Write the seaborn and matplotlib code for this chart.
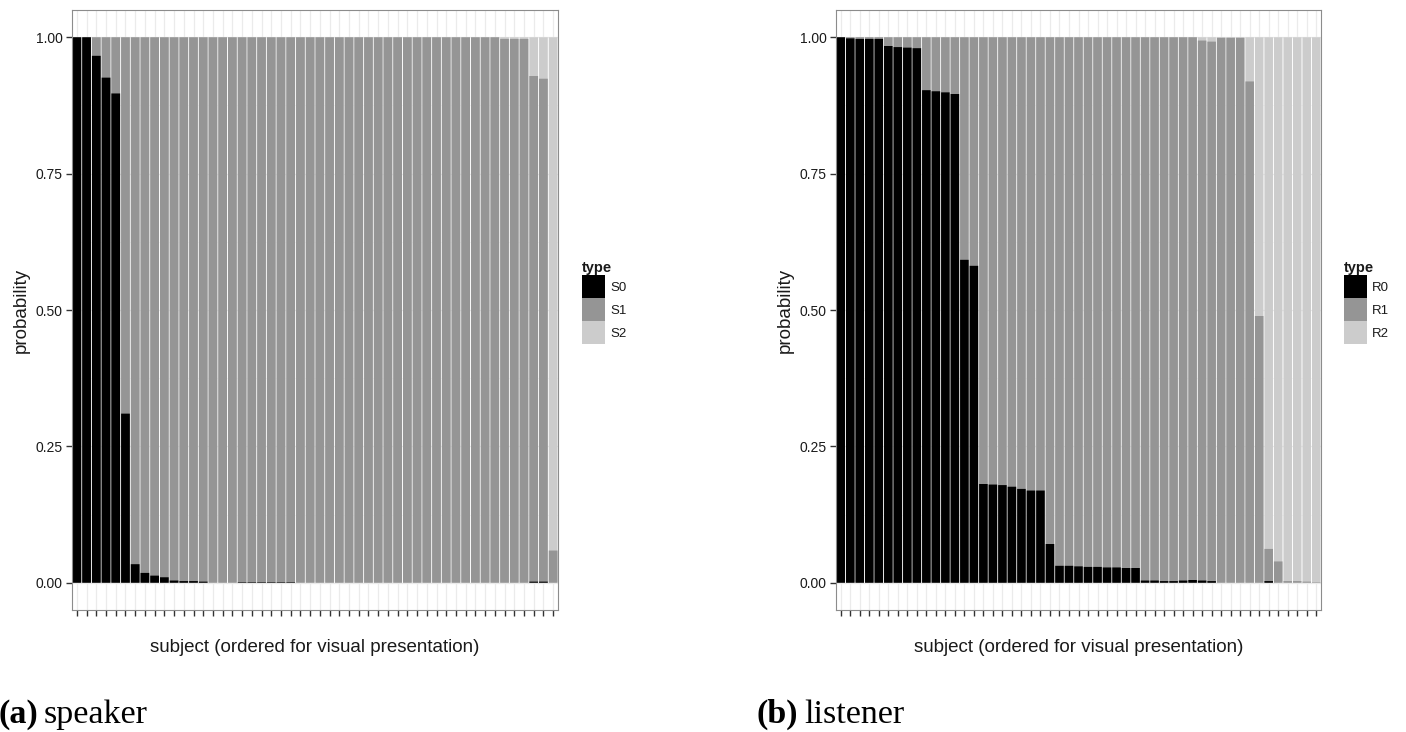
import matplotlib
matplotlib.use("Agg")
import matplotlib.pyplot as plt
import numpy as np
import pandas as pd
import seaborn as sns
from matplotlib.patches import Patch
from matplotlib.ticker import FixedLocator

# ---------------- data ----------------
speaker_types = ["S0", "S1", "S2"]
listener_types = ["R0", "R1", "R2"]

S0 = [1.000, 1.000, 0.966, 0.926, 0.897, 0.310, 0.034, 0.018, 0.013, 0.010,
      0.004, 0.003, 0.003, 0.002, 0.000, 0.000, 0.000, 0.001, 0.001, 0.001,
      0.001, 0.001, 0.001, 0.000, 0.000, 0.000, 0.000, 0.000, 0.000, 0.000,
      0.000, 0.000, 0.000, 0.000, 0.000, 0.000, 0.000, 0.000, 0.000, 0.000,
      0.000, 0.000, 0.000, 0.000, 0.000, 0.000, 0.000, 0.002, 0.002, 0.000]
S1 = [0.000, 0.000, 0.034, 0.074, 0.103, 0.690, 0.966, 0.982, 0.987, 0.990,
      0.996, 0.997, 0.997, 0.998, 1.000, 1.000, 1.000, 0.999, 0.999, 0.999,
      0.999, 0.999, 0.999, 1.000, 1.000, 1.000, 1.000, 1.000, 1.000, 1.000,
      1.000, 1.000, 1.000, 1.000, 1.000, 1.000, 1.000, 1.000, 1.000, 1.000,
      1.000, 1.000, 1.000, 1.000, 0.997, 0.997, 0.997, 0.927, 0.922, 0.059]
S2 = [0.000, 0.000, 0.000, 0.000, 0.000, 0.000, 0.000, 0.000, 0.000, 0.000,
      0.000, 0.000, 0.000, 0.000, 0.000, 0.000, 0.000, 0.000, 0.000, 0.000,
      0.000, 0.000, 0.000, 0.000, 0.000, 0.000, 0.000, 0.000, 0.000, 0.000,
      0.000, 0.000, 0.000, 0.000, 0.000, 0.000, 0.000, 0.000, 0.000, 0.000,
      0.000, 0.000, 0.000, 0.000, 0.003, 0.003, 0.003, 0.071, 0.076, 0.941]

R0 = [1.000, 0.998, 0.997, 0.997, 0.997, 0.984, 0.982, 0.981, 0.980, 0.903,
      0.901, 0.899, 0.896, 0.592, 0.581, 0.181, 0.180, 0.179, 0.176, 0.172,
      0.169, 0.169, 0.071, 0.031, 0.031, 0.030, 0.029, 0.029, 0.028, 0.028,
      0.027, 0.027, 0.004, 0.004, 0.003, 0.003, 0.004, 0.005, 0.004, 0.003,
      0.000, 0.000, 0.000, 0.000, 0.000, 0.003, 0.000, 0.000, 0.000, 0.000,
      0.000]
R1 = [0.000, 0.002, 0.003, 0.003, 0.003, 0.016, 0.018, 0.019, 0.020, 0.097,
      0.099, 0.101, 0.104, 0.408, 0.419, 0.819, 0.820, 0.821, 0.824, 0.828,
      0.831, 0.831, 0.929, 0.969, 0.969, 0.970, 0.971, 0.971, 0.972, 0.972,
      0.973, 0.973, 0.996, 0.996, 0.997, 0.997, 0.996, 0.995, 0.990, 0.989,
      0.999, 0.999, 0.999, 0.919, 0.489, 0.059, 0.039, 0.003, 0.003, 0.002,
      0.001]
R2 = [0.000, 0.000, 0.000, 0.000, 0.000, 0.000, 0.000, 0.000, 0.000, 0.000,
      0.000, 0.000, 0.000, 0.000, 0.000, 0.000, 0.000, 0.000, 0.000, 0.000,
      0.000, 0.000, 0.000, 0.000, 0.000, 0.000, 0.000, 0.000, 0.000, 0.000,
      0.000, 0.000, 0.000, 0.000, 0.000, 0.000, 0.000, 0.000, 0.006, 0.008,
      0.001, 0.001, 0.001, 0.081, 0.511, 0.938, 0.961, 0.997, 0.997, 0.998,
      0.999]

y_ticks = [0.0, 0.25, 0.5, 0.75, 1.0]
y_ticklabels = ["0.00", "0.25", "0.50", "0.75", "1.00"]
x_label = "subject (ordered for visual presentation)"
y_label = "probability"
legend_title = "type"
captions = [("(a)", "speaker"), ("(b)", "listener")]

GREYS = ["#000000", "#959595", "#cccccc"]
TEXT = "#1a1a1a"

# ---------------- style ----------------
sns.set_style("white")
plt.rcParams["font.family"] = ["Liberation Sans", "DejaVu Sans"]

W, H = 1406, 732
fig = plt.figure(figsize=(W / 100, H / 100), dpi=100)

def fx(px):
    return px / W

def fy(py):
    return 1 - py / H

panel_top, panel_bot = 10, 610
axL = fig.add_axes([fx(72), fy(panel_bot), fx(558) - fx(72), (panel_bot - panel_top) / H])
axR = fig.add_axes([fx(836), fy(panel_bot), fx(1321) - fx(836), (panel_bot - panel_top) / H])


def draw_panel(ax, p0, p1, p2, types, legend_x):
    n = len(p0)
    df = pd.DataFrame({
        "subject": [f"subj{i + 1:02d}" for i in range(n)],
        types[0]: p0, types[1]: p1, types[2]: p2,
    })
    df["lvl2"] = df[types[0]] + df[types[1]]
    df["lvl3"] = df["lvl2"] + df[types[2]]
    order = list(df["subject"])
    for col, c in [("lvl3", GREYS[2]), ("lvl2", GREYS[1]), (types[0], GREYS[0])]:
        sns.barplot(data=df, x="subject", y=col, order=order, color=c,
                    width=0.9, saturation=1, errorbar=None, linewidth=0,
                    edgecolor="none", ax=ax, zorder=2)
    for p in ax.patches:
        p.set_snap(False)

    ax.set_xlim(-0.5, n - 0.5)
    ax.set_ylim(-0.05, 1.05)
    ax.set_xticks(range(n))
    ax.set_xticklabels([""] * n)
    ax.set_yticks(y_ticks)
    ax.set_yticklabels(y_ticklabels)
    ax.yaxis.set_minor_locator(FixedLocator([0.125, 0.375, 0.625, 0.875]))
    ax.set_axisbelow(True)
    ax.grid(True, which="major", axis="both", color="#ebebeb", linewidth=0.9, zorder=0)
    ax.grid(True, which="minor", axis="y", color="#f6f6f6", linewidth=0.6, zorder=0)
    ax.tick_params(axis="both", which="major", direction="out", length=4.5,
                   width=1.0, color="#333333", labelsize=10, labelcolor=TEXT, pad=2,
                   bottom=True, left=True, top=False, right=False)
    ax.tick_params(axis="both", which="minor", length=0)
    for s in ax.spines.values():
        s.set_visible(True)
        s.set_color("#8c8c8c")
        s.set_linewidth(0.8)

    ax.set_xlabel(x_label, fontsize=13.5, color=TEXT, va="center")
    ax.xaxis.set_label_coords(0.5, (panel_bot - 648) / (panel_bot - panel_top))
    ax.set_ylabel(y_label, fontsize=13.5, color=TEXT, va="center")
    ax.yaxis.set_label_coords(-0.105, 0.5)

    handles = [Patch(facecolor=g, edgecolor="none") for g in GREYS]
    leg = ax.legend(handles, types, title=legend_title, loc="upper left",
                    bbox_to_anchor=(fx(legend_x), fy(261)), bbox_transform=fig.transFigure,
                    frameon=False, borderpad=0, borderaxespad=0, labelspacing=0,
                    handlelength=1.75, handleheight=2.31, handletextpad=0.4,
                    fontsize=9.5, alignment="left",
                    title_fontproperties={"weight": "bold", "size": 10.5})
    for t in leg.get_texts():
        t.set_color(TEXT)
    leg.get_title().set_color(TEXT)


draw_panel(axL, S0, S1, S2, speaker_types, 582)
draw_panel(axR, R0, R1, R2, listener_types, 1344)

# captions below the panels
fig.canvas.draw()
renderer = fig.canvas.get_renderer()
for (lab, word), x0 in zip(captions, [-2, 757]):
    t = fig.text(fx(x0), fy(723), lab, fontsize=24.5, family=["Liberation Serif", "DejaVu Serif"],
                 fontweight="bold", va="baseline", ha="left", color="black")
    bb = t.get_window_extent(renderer=renderer)
    fig.text(bb.x1 / W + 6 / W, fy(723), word, fontsize=24.5,
             family=["Liberation Serif", "DejaVu Serif"], va="baseline", ha="left", color="black")

fig.savefig("out.png", dpi=100)
